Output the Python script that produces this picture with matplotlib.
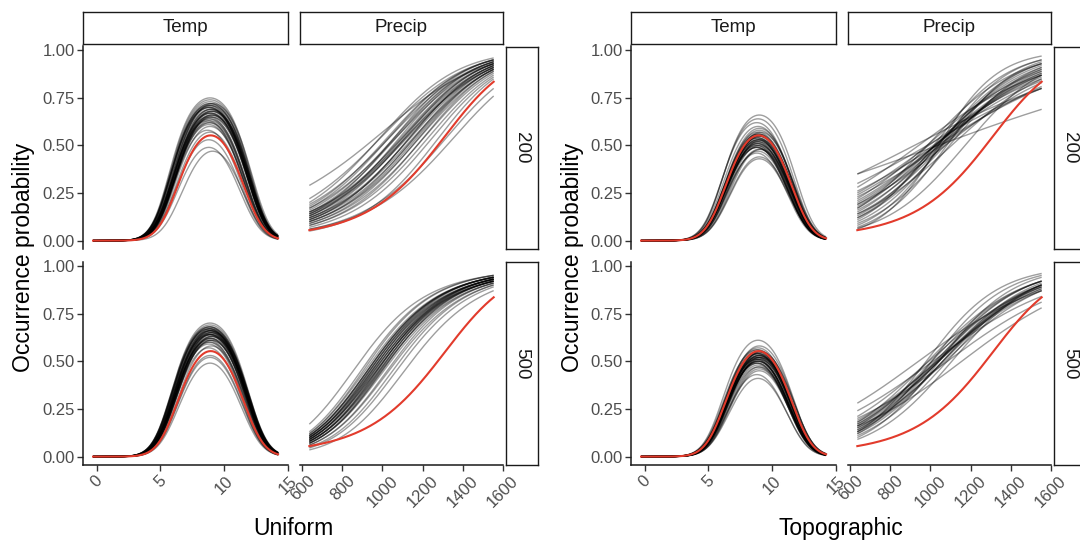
import numpy as np
import matplotlib
matplotlib.use('Agg')
import matplotlib.pyplot as plt

plt.rcParams['font.family'] = ['Liberation Sans', 'DejaVu Sans']

W, H = 1080, 540

# ---------------- data ----------------
col_labels = ['Temp', 'Precip']
row_labels = ['200', '500']
group_titles = ['Uniform', 'Topographic']
y_label = 'Occurrence probability'
y_ticks = [0.0, 0.25, 0.5, 0.75, 1.0]
y_ticklabels = ['0.00', '0.25', '0.50', '0.75', '1.00']
temp_ticks = [0, 5, 10, 15]
precip_ticks = [600, 800, 1000, 1200, 1400, 1600]

temp_range = [-0.3, 14.25]
precip_range = [635, 1555]

# true (red) response curves
true_temp_peak = 0.553
true_temp_center = 8.95
true_temp_k = 0.165
true_precip_start = 0.055
true_precip_end = 0.835
true_precip_bend = 0.015

# fitted replicate curves: Temp -> peak height and optimum; Precip -> prob. at low/high end
uni200_temp_peak = [0.75, 0.62, 0.69, 0.71, 0.58, 0.66, 0.73, 0.64, 0.68, 0.60, 0.70, 0.65, 0.72, 0.67, 0.61,
                    0.69, 0.74, 0.63, 0.66, 0.57, 0.70, 0.68, 0.64, 0.71, 0.53, 0.67, 0.65, 0.49, 0.72, 0.47,
                    0.69, 0.66, 0.71, 0.63, 0.68, 0.70, 0.65, 0.67, 0.62, 0.72]
uni200_temp_center = [8.9, 8.8, 9.0, 8.9, 8.7, 9.1, 8.9, 8.8, 9.0, 8.9, 8.8, 9.0, 9.1, 8.9, 8.8,
                      9.0, 8.9, 8.7, 9.0, 8.9, 8.8, 9.1, 8.9, 9.0, 8.8, 8.9, 9.0, 8.8, 8.9, 9.1,
                      8.9, 9.0, 8.8, 8.9, 9.0, 8.9, 8.8, 9.0, 8.9, 8.9]
uni500_temp_peak = [0.70, 0.64, 0.67, 0.60, 0.66, 0.62, 0.68, 0.58, 0.65, 0.63, 0.69, 0.61, 0.66, 0.64, 0.59,
                    0.67, 0.62, 0.65, 0.57, 0.68, 0.63, 0.66, 0.60, 0.64, 0.53, 0.67, 0.61, 0.52, 0.65, 0.49,
                    0.66, 0.63, 0.67, 0.64, 0.62, 0.65, 0.68, 0.61, 0.66, 0.64]
uni500_temp_center = [8.9, 9.0, 8.8, 8.9, 9.0, 8.9, 8.8, 9.0, 8.9, 9.1, 8.9, 8.8, 9.0, 8.9, 8.8,
                      9.0, 8.9, 9.0, 8.8, 8.9, 9.0, 8.9, 8.8, 9.0, 8.9, 8.8, 9.0, 8.9, 9.1, 8.9,
                      8.9, 9.0, 8.9, 8.8, 9.0, 8.9, 8.9, 9.0, 8.8, 8.9]
topo200_temp_peak = [0.66, 0.55, 0.50, 0.58, 0.47, 0.53, 0.60, 0.49, 0.56, 0.52, 0.62, 0.48, 0.54, 0.57, 0.46,
                     0.51, 0.59, 0.53, 0.50, 0.55, 0.64, 0.48, 0.52, 0.57, 0.44, 0.54, 0.51, 0.43, 0.56, 0.49,
                     0.53, 0.55, 0.51, 0.54, 0.50, 0.56, 0.52, 0.53, 0.49, 0.55]
topo200_temp_center = [9.0, 8.9, 8.8, 9.0, 8.9, 9.1, 8.9, 8.8, 9.0, 8.9, 8.8, 9.0, 8.9, 9.1, 8.8,
                       8.9, 9.0, 8.9, 8.8, 9.0, 8.9, 9.1, 8.8, 8.9, 9.0, 8.9, 8.8, 9.0, 8.9, 8.8,
                       8.9, 9.0, 8.9, 8.8, 9.0, 8.9, 9.0, 8.9, 8.8, 9.0]
topo500_temp_peak = [0.61, 0.53, 0.49, 0.56, 0.47, 0.52, 0.55, 0.50, 0.54, 0.46, 0.57, 0.51, 0.53, 0.48, 0.55,
                     0.50, 0.52, 0.54, 0.47, 0.56, 0.51, 0.49, 0.53, 0.45, 0.55, 0.52, 0.43, 0.50, 0.58, 0.41,
                     0.52, 0.54, 0.51, 0.53, 0.50, 0.55, 0.52, 0.49, 0.54, 0.51]
topo500_temp_center = [8.9, 9.0, 8.9, 8.8, 9.0, 8.9, 9.1, 8.9, 8.8, 9.0, 8.9, 8.8, 9.0, 8.9, 9.1,
                       8.9, 8.8, 9.0, 8.9, 8.9, 9.0, 8.8, 8.9, 9.0, 8.9, 9.1, 8.8, 8.9, 9.0, 8.9,
                       9.0, 8.9, 8.8, 9.0, 8.9, 8.9, 9.0, 8.8, 8.9, 9.0]

uni200_precip_start = [0.29, 0.22, 0.20, 0.19, 0.18, 0.17, 0.17, 0.16, 0.15, 0.15, 0.14, 0.14, 0.13, 0.13,
                       0.12, 0.12, 0.12, 0.11, 0.11, 0.10, 0.10, 0.09, 0.09, 0.08, 0.08, 0.07, 0.06, 0.05,
                       0.06, 0.13, 0.15, 0.11, 0.14, 0.10]
uni200_precip_end = [0.93, 0.95, 0.96, 0.94, 0.95, 0.93, 0.95, 0.94, 0.92, 0.94, 0.93, 0.91, 0.92, 0.94,
                     0.91, 0.93, 0.90, 0.92, 0.90, 0.91, 0.89, 0.90, 0.88, 0.89, 0.87, 0.86, 0.80, 0.85,
                     0.76, 0.93, 0.91, 0.92, 0.95, 0.90]
uni500_precip_start = [0.17, 0.13, 0.12, 0.12, 0.11, 0.11, 0.11, 0.10, 0.10, 0.10, 0.10, 0.09, 0.09, 0.09,
                       0.09, 0.08, 0.08, 0.08, 0.08, 0.07, 0.07, 0.07, 0.06, 0.06, 0.05, 0.045, 0.035, 0.09,
                       0.10, 0.08, 0.11, 0.07]
uni500_precip_end = [0.95, 0.95, 0.94, 0.95, 0.94, 0.93, 0.94, 0.94, 0.93, 0.92, 0.94, 0.93, 0.92, 0.94,
                     0.93, 0.93, 0.92, 0.91, 0.93, 0.92, 0.91, 0.93, 0.91, 0.90, 0.90, 0.89, 0.87, 0.92,
                     0.93, 0.92, 0.94, 0.92]
topo200_precip_start = [0.35, 0.35, 0.30, 0.28, 0.26, 0.25, 0.23, 0.22, 0.20, 0.19, 0.18, 0.17, 0.16, 0.15,
                        0.14, 0.13, 0.12, 0.11, 0.10, 0.09, 0.08, 0.07, 0.06, 0.065, 0.21, 0.17, 0.14, 0.12,
                        0.19, 0.24]
topo200_precip_end = [0.80, 0.69, 0.80, 0.87, 0.80, 0.85, 0.81, 0.89, 0.87, 0.83, 0.87, 0.93, 0.88, 0.91,
                      0.85, 0.92, 0.90, 0.95, 0.93, 0.91, 0.95, 0.94, 0.97, 0.87, 0.86, 0.90, 0.89, 0.93,
                      0.88, 0.84]
topo500_precip_start = [0.28, 0.24, 0.21, 0.20, 0.19, 0.18, 0.17, 0.16, 0.15, 0.14, 0.13, 0.12, 0.11, 0.10,
                        0.09, 0.16, 0.13, 0.15, 0.14, 0.17, 0.12, 0.16, 0.18, 0.13]
topo500_precip_end = [0.87, 0.84, 0.89, 0.81, 0.87, 0.92, 0.88, 0.92, 0.87, 0.92, 0.90, 0.95, 0.90, 0.94,
                      0.90, 0.78, 0.96, 0.90, 0.89, 0.90, 0.91, 0.89, 0.88, 0.92]

temp_k = {'Uniform': 0.165, 'Topographic': 0.165}
precip_bend = {('Uniform', '200'): 0.01, ('Uniform', '500'): -0.02,
               ('Topographic', '200'): 0.0, ('Topographic', '500'): 0.0}

temp_sets = {
    ('Uniform', '200'): (uni200_temp_peak, uni200_temp_center),
    ('Uniform', '500'): (uni500_temp_peak, uni500_temp_center),
    ('Topographic', '200'): (topo200_temp_peak, topo200_temp_center),
    ('Topographic', '500'): (topo500_temp_peak, topo500_temp_center),
}
precip_sets = {
    ('Uniform', '200'): (uni200_precip_start, uni200_precip_end),
    ('Uniform', '500'): (uni500_precip_start, uni500_precip_end),
    ('Topographic', '200'): (topo200_precip_start, topo200_precip_end),
    ('Topographic', '500'): (topo500_precip_start, topo500_precip_end),
}

# ---------------- model curves ----------------
def logit(p):
    return np.log(p / (1 - p))

def expit(z):
    return 1.0 / (1.0 + np.exp(-z))

def temp_curve(x, peak, center, k):
    return expit(logit(peak) - k * (x - center) ** 2)

def precip_curve(x, p0, p1, bend):
    u = (x - 1000.0) / 100.0
    u0 = (precip_range[0] - 1000.0) / 100.0
    u1 = (precip_range[1] - 1000.0) / 100.0
    L0, L1 = logit(p0), logit(p1)
    L = L0 + (L1 - L0) * (u - u0) / (u1 - u0) + bend * (u - u0) * (u - u1)
    return expit(L)

xt = np.linspace(temp_range[0], temp_range[1], 300)
xp = np.linspace(precip_range[0], precip_range[1], 300)

# ---------------- layout ----------------
fig = plt.figure(figsize=(W / 100, H / 100), dpi=100)
fig.patch.set_facecolor('white')

def add_ax(x0, y0, x1, y1):
    return fig.add_axes([x0 / W, 1 - y1 / H, (x1 - x0) / W, (y1 - y0) / H])

col_x = [(83, 288), (300, 503)]
row_y = [(46.5, 249), (262, 465)]
strip_y = (11.7, 44.3)
rstrip_x = (505.7, 538.3)
group_dx = [0, 548]

red = '#E23B2C'
tick_col = '#4D4D4D'
txt_col = '#1A1A1A'
line_alpha = 0.38
line_w = 1.0

xlims = [(-1.09, 15.03), (588.5, 1601.5)]
ylims = (-0.044, 1.02)

def strip(x0, y0, x1, y1, label, rot=0):
    a = add_ax(x0, y0, x1, y1)
    a.set_xticks([]); a.set_yticks([])
    a.set_facecolor('white')
    for s in a.spines.values():
        s.set_linewidth(1.0)
        s.set_color('#1A1A1A')
    a.text(0.5, 0.5, label, transform=a.transAxes, ha='center', va='center',
           fontsize=13.5, color=txt_col, rotation=rot)

for g, grp in enumerate(group_titles):
    dx = group_dx[g]
    for r, rl in enumerate(row_labels):
        for c, cl in enumerate(col_labels):
            x0, x1 = col_x[c]
            y0, y1 = row_y[r]
            ax = add_ax(x0 + dx, y0, x1 + dx, y1)
            ax.set_facecolor('none')
            if cl == 'Temp':
                peaks, centers = temp_sets[(grp, rl)]
                for pk, ce in zip(peaks, centers):
                    ax.plot(xt, temp_curve(xt, pk, ce, temp_k[grp]), color='black',
                            alpha=line_alpha, lw=line_w, solid_capstyle='butt')
                ax.plot(xt, temp_curve(xt, true_temp_peak, true_temp_center, true_temp_k),
                        color=red, lw=1.5)
                ax.set_xticks(temp_ticks)
                ax.set_xticklabels([str(t) for t in temp_ticks])
            else:
                starts, ends = precip_sets[(grp, rl)]
                for p0, p1 in zip(starts, ends):
                    ax.plot(xp, precip_curve(xp, p0, p1, precip_bend[(grp, rl)]), color='black',
                            alpha=line_alpha, lw=line_w, solid_capstyle='butt')
                ax.plot(xp, precip_curve(xp, true_precip_start, true_precip_end, true_precip_bend),
                        color=red, lw=1.5)
                ax.set_xticks(precip_ticks)
                ax.set_xticklabels([str(t) for t in precip_ticks])
            ax.set_xlim(*xlims[c])
            ax.set_ylim(*ylims)
            ax.set_yticks(y_ticks)
            ax.set_yticklabels(y_ticklabels)
            for s in ['top', 'right']:
                ax.spines[s].set_visible(False)
            ax.spines['left'].set_visible(c == 0)
            ax.spines['bottom'].set_visible(r == 1)
            for s in ['left', 'bottom']:
                ax.spines[s].set_linewidth(1.1)
                ax.spines[s].set_color('#1A1A1A')
            ax.tick_params(axis='y', left=(c == 0), labelleft=(c == 0), length=4, width=1.0,
                           color='#333333', labelcolor=tick_col, labelsize=12, pad=2)
            ax.tick_params(axis='x', bottom=(r == 1), labelbottom=(r == 1), length=4, width=1.0,
                           color='#333333', labelcolor=tick_col, labelsize=12, pad=2)
            if r == 1:
                for lab in ax.get_xticklabels():
                    lab.set_rotation(45)
                    lab.set_ha('center')
                    lab.set_va('top')
            if r == 0:
                strip(x0 + dx, strip_y[0], x1 + dx, strip_y[1], cl)
        strip(rstrip_x[0] + dx, row_y[r][0], rstrip_x[1] + dx, row_y[r][1], rl, rot=-90)
    fig.text((24 + dx) / W, 1 - 257 / H, y_label, rotation=90, ha='center', va='center',
             fontsize=16.5, color='black')
    fig.text((293 + dx) / W, 1 - 535 / H, grp, ha='center', va='baseline',
             fontsize=16.5, color='black')

fig.savefig('out.png', dpi=100, facecolor='white')
